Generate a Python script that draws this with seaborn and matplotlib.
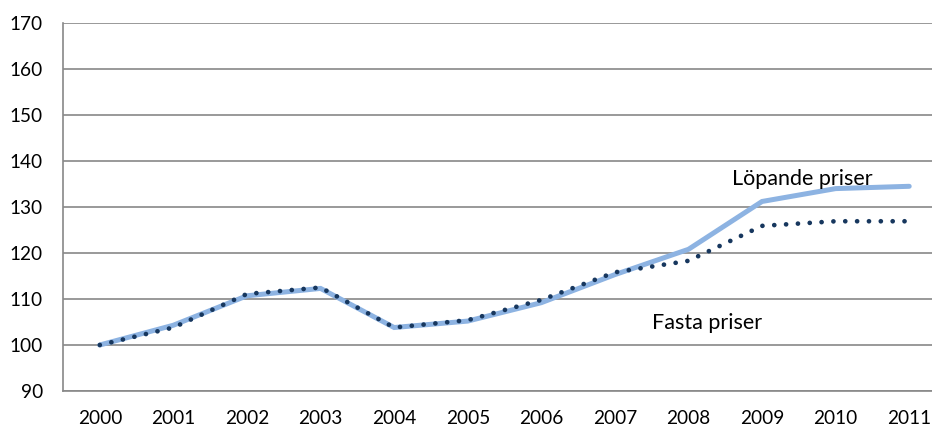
import matplotlib
matplotlib.use('Agg')
import matplotlib.pyplot as plt
import seaborn as sns
import numpy as np
import pandas as pd

years = ['2000', '2001', '2002', '2003', '2004', '2005',
         '2006', '2007', '2008', '2009', '2010', '2011']
lopande = [100, 104.3, 110.7, 112.3, 103.8, 105.2, 109.2, 115.3, 120.8, 131.2, 134.0, 134.5]
fasta = [100, 103.8, 111.1, 112.5, 103.8, 105.4, 109.8, 115.8, 118.3, 125.9, 126.9, 126.9]
yticks = [90, 100, 110, 120, 130, 140, 150, 160, 170]

sns.set_style('white')
plt.rcParams['font.family'] = ['Lato', 'DejaVu Sans']
plt.rcParams['text.color'] = 'black'
plt.rcParams['xtick.color'] = 'black'
plt.rcParams['ytick.color'] = 'black'

df = pd.DataFrame({'x': np.arange(len(years)), 'lopande': lopande, 'fasta': fasta})

fig = plt.figure(figsize=(9.32, 4.28), dpi=100)
ax = fig.add_axes([63 / 932, 1 - 391 / 428, (946 - 63) / 932, 368 / 428])

grid_col = '#888888'
for v in yticks:
    ax.axhline(v, color=grid_col, lw=1.2, zorder=0)

# löpande priser: thick light blue line, fasta priser: round dots
sns.lineplot(data=df, x='x', y='lopande', ax=ax, color='#8db3e2', lw=3.6,
             solid_joinstyle='miter', zorder=2)
sns.lineplot(data=df, x='x', y='fasta', ax=ax, color='#17375e', lw=3.4,
             linestyle=(0, (0.01, 2.5)), dash_capstyle='round', zorder=3)

ax.set_xlim(-0.5, len(years) - 0.5)
ax.set_ylim(90, 170)
ax.set_yticks(yticks)
ax.set_yticklabels([str(v) for v in yticks], fontsize=13.7)
ax.set_xticks(np.arange(len(years) + 1) - 0.5)
ax.set_xticklabels([])
ax.set_xticks(np.arange(len(years)), minor=True)
ax.set_xticklabels(years, minor=True, fontsize=13.7)
ax.tick_params(axis='x', which='minor', length=0, pad=13.5)
ax.tick_params(axis='x', which='major', length=4.5, width=1.2, color=grid_col, direction='out')
ax.tick_params(axis='y', length=4.5, width=1.2, color=grid_col, direction='out', pad=10)
ax.set_xlabel('')
ax.set_ylabel('')

for side in ['top', 'right']:
    ax.spines[side].set_visible(False)
for side in ['left', 'bottom']:
    ax.spines[side].set_color(grid_col)
    ax.spines[side].set_linewidth(1.2)

ax.text(8.59, 134.7, 'Löpande priser', fontsize=15.5, va='baseline', ha='left')
ax.text(7.50, 103.4, 'Fasta priser', fontsize=15.5, va='baseline', ha='left')

fig.savefig('out.png', dpi=100)
